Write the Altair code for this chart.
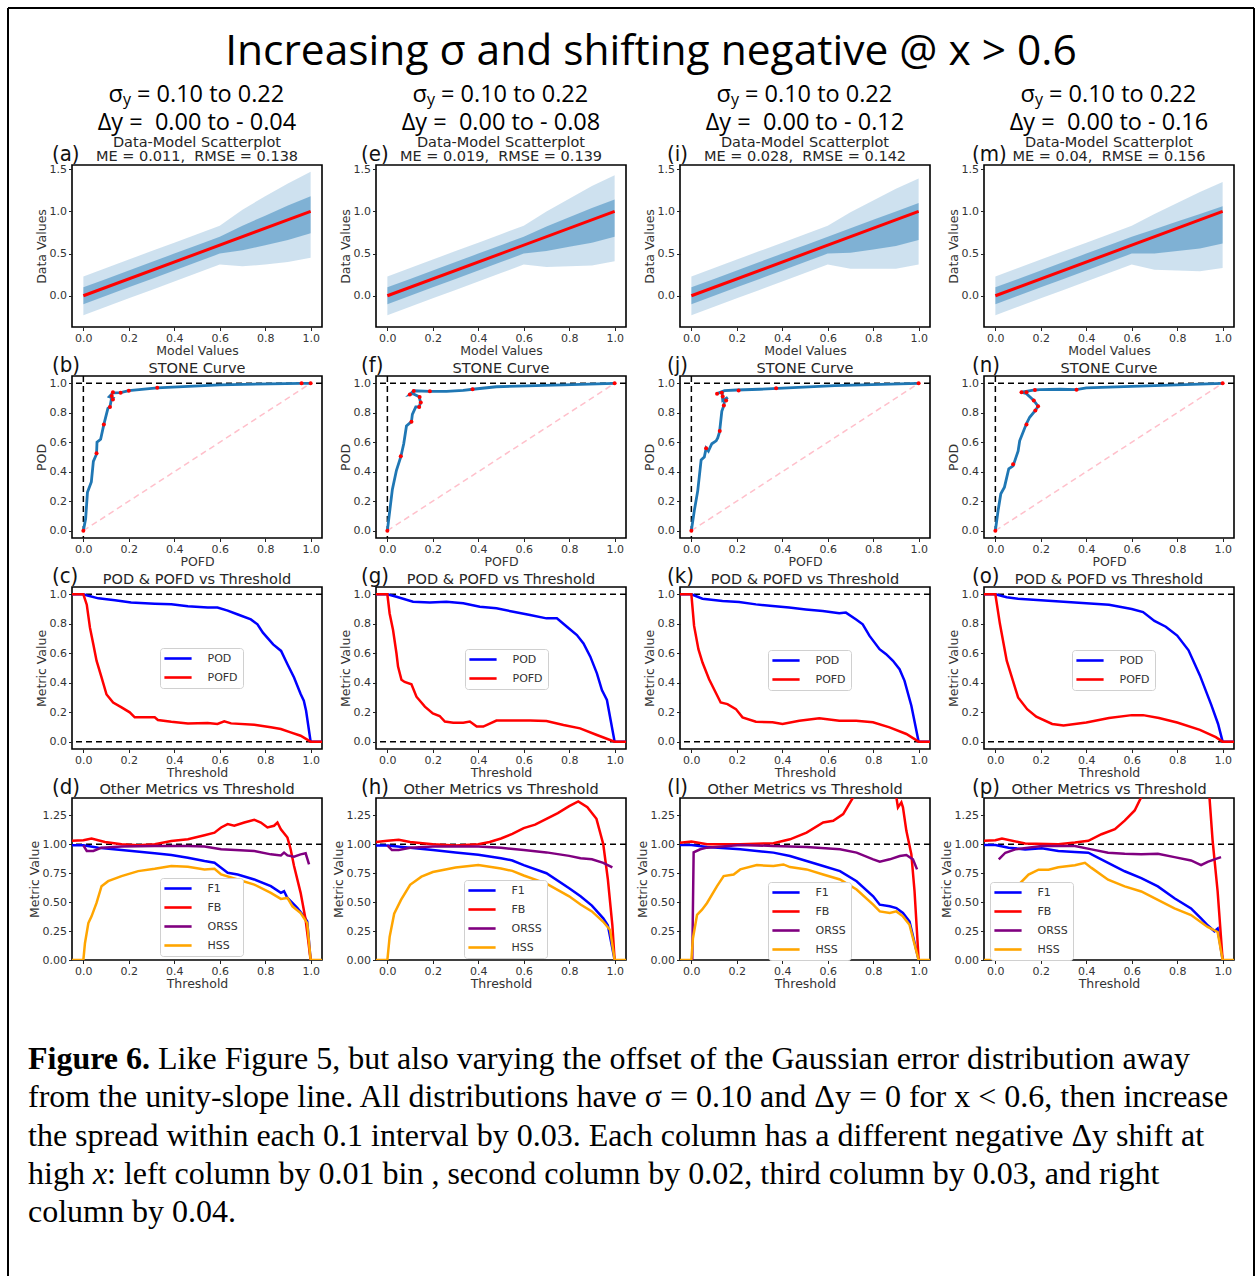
import altair as alt
import pandas as pd

# ---------------- fonts / colours ----------------
SANS = "DejaVu Sans"
HEAD = "Open Sans"
SERIF = "Liberation Serif"
NARROW = "Liberation Sans Narrow, DejaVu Sans Condensed, Open Sans"
TXT = "#262626"
TAB_BLUE = "#1f77b4"

W, H = 250, 162
TICKS = [0.0, 0.2, 0.4, 0.6, 0.8, 1.0]
XDOM = [-0.05, 1.05]

# ---------------- per-column header text ----------------
DY_TEXT = ["0.00 to - 0.04", "0.00 to - 0.08", "0.00 to - 0.12", "0.00 to - 0.16"]
ME_TEXT = ["0.011", "0.019", "0.028", "0.04"]
RMSE_TEXT = ["0.138", "0.139", "0.142", "0.156"]
LETTERS = [["a", "b", "c", "d"], ["e", "f", "g", "h"], ["i", "j", "k", "l"], ["m", "n", "o", "p"]]
LETTER_DX = [-20, -15, -13, -12]

# ---------------- row 1: data-model scatter envelopes ----------------
SCAT_X = [0.0, 0.1, 0.2, 0.3, 0.4, 0.5, 0.6, 0.7, 0.8, 0.9, 1.0]
INNER_LO = [
    [-0.10, 0.00, 0.10, 0.20, 0.30, 0.40, 0.50, 0.54, 0.60, 0.66, 0.74],
    [-0.10, 0.00, 0.10, 0.20, 0.30, 0.40, 0.50, 0.53, 0.58, 0.63, 0.70],
    [-0.10, 0.00, 0.10, 0.20, 0.30, 0.40, 0.50, 0.51, 0.55, 0.59, 0.66],
    [-0.10, 0.00, 0.10, 0.20, 0.30, 0.40, 0.50, 0.50, 0.53, 0.56, 0.62],
]
INNER_HI = [
    [0.10, 0.20, 0.30, 0.40, 0.50, 0.60, 0.70, 0.83, 0.95, 1.07, 1.18],
    [0.10, 0.20, 0.30, 0.40, 0.50, 0.60, 0.70, 0.82, 0.93, 1.04, 1.14],
    [0.10, 0.20, 0.30, 0.40, 0.50, 0.60, 0.70, 0.80, 0.90, 1.00, 1.10],
    [0.10, 0.20, 0.30, 0.40, 0.50, 0.60, 0.70, 0.79, 0.88, 0.97, 1.06],
]
OUTER_LO = [
    [-0.23, -0.13, -0.03, 0.07, 0.17, 0.27, 0.37, 0.35, 0.37, 0.40, 0.45],
    [-0.23, -0.13, -0.03, 0.07, 0.17, 0.27, 0.37, 0.34, 0.35, 0.36, 0.41],
    [-0.23, -0.13, -0.03, 0.07, 0.17, 0.27, 0.37, 0.32, 0.32, 0.32, 0.37],
    [-0.23, -0.13, -0.03, 0.07, 0.17, 0.27, 0.37, 0.31, 0.30, 0.29, 0.33],
]
OUTER_HI = [
    [0.23, 0.33, 0.43, 0.53, 0.63, 0.73, 0.83, 1.02, 1.18, 1.33, 1.47],
    [0.23, 0.33, 0.43, 0.53, 0.63, 0.73, 0.83, 1.00, 1.15, 1.30, 1.43],
    [0.23, 0.33, 0.43, 0.53, 0.63, 0.73, 0.83, 0.99, 1.13, 1.27, 1.39],
    [0.23, 0.33, 0.43, 0.53, 0.63, 0.73, 0.83, 0.97, 1.10, 1.23, 1.35],
]

# ---------------- row 2: STONE curves (POFD, POD) ----------------
STONE_X = [
    [0, 0.01, 0.018, 0.035, 0.044, 0.058, 0.06, 0.076, 0.09, 0.108, 0.117, 0.123, 0.13, 0.114, 0.13, 0.164, 0.2, 0.325, 0.6, 0.96, 1.0],
    [0, 0.007, 0.022, 0.04, 0.059, 0.072, 0.084, 0.106, 0.11, 0.125, 0.14, 0.146, 0.14, 0.113, 0.099, 0.116, 0.187, 0.26, 0.334, 0.375, 0.48, 0.775, 1.0],
    [0, 0.013, 0.028, 0.043, 0.057, 0.065, 0.075, 0.09, 0.109, 0.116, 0.124, 0.134, 0.143, 0.146, 0.16, 0.138, 0.135, 0.113, 0.146, 0.2, 0.3, 0.38, 0.63, 1.0],
    [0, 0.012, 0.024, 0.04, 0.059, 0.078, 0.1, 0.107, 0.137, 0.151, 0.176, 0.188, 0.169, 0.137, 0.115, 0.174, 0.196, 0.284, 0.357, 0.4, 1.0],
]
STONE_Y = [
    [0, 0.08, 0.26, 0.33, 0.47, 0.52, 0.60, 0.62, 0.72, 0.83, 0.84, 0.89, 0.90, 0.91, 0.935, 0.937, 0.95, 0.97, 0.99, 1.0, 1.0],
    [0, 0.09, 0.28, 0.41, 0.50, 0.59, 0.71, 0.74, 0.79, 0.84, 0.84, 0.87, 0.91, 0.93, 0.925, 0.95, 0.946, 0.946, 0.952, 0.96, 0.977, 0.99, 1.0],
    [0, 0.136, 0.27, 0.48, 0.50, 0.56, 0.54, 0.59, 0.61, 0.63, 0.67, 0.81, 0.85, 0.886, 0.905, 0.884, 0.943, 0.93, 0.95, 0.955, 0.96, 0.966, 0.984, 1.0],
    [0, 0.136, 0.25, 0.295, 0.42, 0.44, 0.54, 0.61, 0.727, 0.77, 0.816, 0.845, 0.884, 0.93, 0.94, 0.955, 0.957, 0.96, 0.957, 0.97, 1.0],
]
STONE_MX = [
    [0, 0.058, 0.09, 0.117, 0.13, 0.125, 0.13, 0.164, 0.2, 0.325, 0.96, 1.0],
    [0, 0.059, 0.106, 0.14, 0.147, 0.142, 0.099, 0.116, 0.187, 0.375, 1.0],
    [0, 0.065, 0.125, 0.143, 0.153, 0.138, 0.134, 0.113, 0.208, 0.373, 1.0],
    [0, 0.078, 0.137, 0.176, 0.188, 0.169, 0.137, 0.115, 0.174, 0.357, 1.0],
]
STONE_MY = [
    [0, 0.525, 0.72, 0.84, 0.89, 0.915, 0.94, 0.937, 0.95, 0.97, 1.0, 1.0],
    [0, 0.505, 0.74, 0.84, 0.87, 0.907, 0.925, 0.948, 0.946, 0.96, 1.0],
    [0, 0.56, 0.676, 0.85, 0.884, 0.91, 0.936, 0.93, 0.952, 0.966, 1.0],
    [0, 0.45, 0.72, 0.816, 0.845, 0.884, 0.94, 0.94, 0.955, 0.957, 1.0],
]

# ---------------- row 3: POD & POFD vs threshold ----------------
POD_X = [
    [-0.05, 0, 0.022, 0.066, 0.139, 0.21, 0.314, 0.387, 0.46, 0.547, 0.59, 0.635, 0.68, 0.737, 0.766, 0.79, 0.835, 0.87, 0.898, 0.927, 0.956, 0.97, 0.98, 1.0, 1.05],
    [-0.05, 0, 0.04, 0.113, 0.187, 0.26, 0.334, 0.407, 0.48, 0.554, 0.628, 0.7, 0.746, 0.79, 0.834, 0.863, 0.893, 0.922, 0.944, 0.966, 1.0, 1.05],
    [-0.05, 0, 0.049, 0.137, 0.21, 0.284, 0.357, 0.43, 0.504, 0.578, 0.651, 0.68, 0.725, 0.754, 0.784, 0.828, 0.857, 0.887, 0.916, 0.938, 0.968, 1.0, 1.05],
    [-0.05, 0, 0.05, 0.1, 0.2, 0.3, 0.4, 0.5, 0.6, 0.65, 0.7, 0.75, 0.8, 0.85, 0.9, 0.95, 0.98, 1.0, 1.05],
]
POD_Y = [
    [1, 1, 0.99, 0.973, 0.96, 0.944, 0.937, 0.933, 0.92, 0.91, 0.91, 0.89, 0.863, 0.83, 0.797, 0.74, 0.66, 0.616, 0.526, 0.436, 0.323, 0.278, 0.21, 0, 0],
    [1, 1, 0.984, 0.95, 0.944, 0.95, 0.939, 0.916, 0.905, 0.882, 0.86, 0.837, 0.837, 0.78, 0.724, 0.667, 0.577, 0.464, 0.35, 0.283, 0, 0],
    [1, 1, 0.97, 0.955, 0.948, 0.932, 0.921, 0.91, 0.898, 0.887, 0.871, 0.876, 0.83, 0.797, 0.718, 0.628, 0.594, 0.549, 0.492, 0.413, 0.244, 0, 0],
    [1, 1, 0.98, 0.97, 0.96, 0.95, 0.94, 0.93, 0.9, 0.88, 0.82, 0.78, 0.72, 0.62, 0.45, 0.25, 0.12, 0, 0],
]
POFD_X = [
    [-0.05, 0, 0.015, 0.029, 0.044, 0.058, 0.08, 0.102, 0.131, 0.168, 0.204, 0.226, 0.27, 0.314, 0.328, 0.387, 0.46, 0.547, 0.59, 0.62, 0.65, 0.752, 0.825, 0.869, 0.912, 0.956, 1.0, 1.05],
    [-0.05, 0, 0.01, 0.025, 0.04, 0.047, 0.062, 0.076, 0.106, 0.128, 0.165, 0.2, 0.23, 0.253, 0.29, 0.334, 0.363, 0.393, 0.422, 0.48, 0.57, 0.628, 0.7, 0.775, 0.848, 0.922, 1.0, 1.05],
    [-0.05, 0, 0.012, 0.031, 0.049, 0.078, 0.107, 0.129, 0.159, 0.196, 0.225, 0.284, 0.357, 0.401, 0.475, 0.563, 0.651, 0.725, 0.799, 0.872, 0.946, 1.0, 1.05],
    [-0.05, 0, 0.02, 0.05, 0.1, 0.14, 0.18, 0.25, 0.3, 0.4, 0.5, 0.6, 0.65, 0.72, 0.8, 0.9, 0.97, 1.0, 1.05],
]
POFD_Y = [
    [1, 1, 0.93, 0.774, 0.66, 0.55, 0.436, 0.32, 0.266, 0.233, 0.199, 0.165, 0.165, 0.165, 0.147, 0.135, 0.124, 0.126, 0.12, 0.138, 0.124, 0.115, 0.097, 0.086, 0.063, 0.04, 0, 0],
    [1, 1, 0.87, 0.758, 0.6, 0.51, 0.42, 0.405, 0.39, 0.305, 0.238, 0.192, 0.174, 0.136, 0.129, 0.129, 0.136, 0.102, 0.102, 0.143, 0.143, 0.143, 0.14, 0.113, 0.09, 0.045, 0, 0],
    [1, 1, 0.786, 0.628, 0.537, 0.424, 0.334, 0.266, 0.255, 0.221, 0.165, 0.135, 0.131, 0.12, 0.142, 0.158, 0.142, 0.142, 0.131, 0.097, 0.052, 0, 0],
    [1, 1, 0.8, 0.55, 0.3, 0.22, 0.17, 0.12, 0.11, 0.13, 0.16, 0.18, 0.18, 0.16, 0.13, 0.08, 0.03, 0, 0],
]
POD_LEGEND_XY = [(88, 61), (89, 62), (88, 63), (88, 63)]

# ---------------- row 4: other metrics vs threshold ----------------
F1_X = [
    [-0.05, 0, 0.066, 0.168, 0.314, 0.387, 0.46, 0.533, 0.577, 0.606, 0.635, 0.679, 0.752, 0.825, 0.869, 0.883, 0.898, 0.92, 0.942, 0.971, 0.985, 1.0],
    [-0.05, 0, 0.1, 0.2, 0.3, 0.4, 0.5, 0.55, 0.6, 0.7, 0.8, 0.85, 0.9, 0.95, 0.97, 1.0],
    [-0.05, 0, 0.069, 0.215, 0.361, 0.434, 0.507, 0.58, 0.654, 0.727, 0.8, 0.829, 0.873, 0.902, 0.931, 0.96, 1.0],
    [-0.05, 0, 0.058, 0.131, 0.204, 0.277, 0.35, 0.409, 0.453, 0.496, 0.569, 0.642, 0.715, 0.788, 0.861, 0.905, 0.934, 0.964, 0.978, 1.0],
]
F1_Y = [
    [0.991, 0.991, 0.971, 0.951, 0.922, 0.907, 0.884, 0.855, 0.84, 0.797, 0.754, 0.739, 0.696, 0.638, 0.58, 0.594, 0.536, 0.493, 0.449, 0.377, 0.333, 0],
    [0.99, 0.99, 0.97, 0.95, 0.93, 0.91, 0.88, 0.86, 0.82, 0.75, 0.62, 0.55, 0.47, 0.36, 0.3, 0],
    [0.994, 0.994, 0.977, 0.957, 0.928, 0.899, 0.855, 0.812, 0.768, 0.681, 0.551, 0.478, 0.464, 0.449, 0.406, 0.333, 0],
    [0.994, 0.994, 0.971, 0.956, 0.965, 0.942, 0.933, 0.927, 0.883, 0.84, 0.767, 0.708, 0.636, 0.534, 0.446, 0.359, 0.3, 0.248, 0.271, 0],
]
FB_X = [
    [-0.05, 0, 0.036, 0.095, 0.168, 0.241, 0.314, 0.387, 0.46, 0.533, 0.577, 0.606, 0.635, 0.664, 0.708, 0.752, 0.781, 0.81, 0.839, 0.854, 0.869, 0.898, 0.912, 0.927, 0.956, 0.978, 1.0],
    [-0.05, 0, 0.05, 0.1, 0.2, 0.3, 0.4, 0.45, 0.5, 0.55, 0.6, 0.65, 0.7, 0.75, 0.8, 0.84, 0.88, 0.92, 0.95, 0.97, 0.99, 1.0],
    [-0.05, 0, 0.069, 0.215, 0.361, 0.434, 0.507, 0.58, 0.624, 0.668, 0.712, 0.74, 0.89, 0.902, 0.909, 0.924, 0.931, 0.946, 0.968, 0.982, 1.0],
    [-0.05, 0, 0.029, 0.131, 0.277, 0.35, 0.409, 0.467, 0.526, 0.569, 0.613, 0.642, 0.66, 0.93, 0.942, 0.956, 0.978, 1.0],
]
FB_Y = [
    [1.03, 1.035, 1.05, 1.02, 1.0, 0.991, 1.0, 1.029, 1.043, 1.078, 1.1, 1.145, 1.174, 1.16, 1.188, 1.212, 1.188, 1.145, 1.16, 1.188, 1.13, 1.058, 0.957, 0.812, 0.58, 0.348, 0],
    [1.02, 1.03, 1.04, 1.02, 1.0, 0.99, 1.0, 1.02, 1.05, 1.09, 1.14, 1.17, 1.22, 1.27, 1.33, 1.37, 1.32, 1.22, 1.0, 0.7, 0.3, 0],
    [1.014, 1.023, 1.0, 1.0, 1.009, 1.043, 1.101, 1.188, 1.203, 1.261, 1.406, 1.6, 1.6, 1.406, 1.319, 1.362, 1.319, 1.116, 0.913, 0.594, 0],
    [1.03, 1.035, 1.05, 1.006, 1.0, 1.015, 1.03, 1.087, 1.131, 1.204, 1.292, 1.408, 1.6, 1.6, 1.408, 1.03, 0.592, 0],
]
ORSS_X = [
    [0, 0.015, 0.044, 0.08, 0.168, 0.314, 0.46, 0.533, 0.606, 0.752, 0.825, 0.869, 0.883, 0.898, 0.927, 0.956, 0.978, 0.993],
    [0, 0.02, 0.05, 0.1, 0.2, 0.3, 0.4, 0.5, 0.6, 0.7, 0.8, 0.85, 0.9, 0.95, 0.99],
    [0.004, 0.01, 0.039, 0.069, 0.215, 0.361, 0.507, 0.654, 0.727, 0.8, 0.829, 0.873, 0.917, 0.946, 0.975, 0.993],
    [0.015, 0.044, 0.088, 0.204, 0.35, 0.423, 0.496, 0.569, 0.642, 0.715, 0.788, 0.861, 0.905, 0.934, 0.964, 0.993],
]
ORSS_Y = [
    [0.991, 0.942, 0.942, 0.971, 0.98, 0.986, 0.986, 0.98, 0.957, 0.942, 0.913, 0.904, 0.928, 0.904, 0.893, 0.913, 0.922, 0.826],
    [0.99, 0.95, 0.95, 0.97, 0.98, 0.98, 0.98, 0.97, 0.95, 0.93, 0.9, 0.88, 0.87, 0.84, 0.8],
    [0, 0.93, 0.957, 0.971, 0.994, 0.986, 0.977, 0.957, 0.928, 0.87, 0.849, 0.87, 0.899, 0.907, 0.87, 0.783],
    [0.869, 0.927, 0.956, 0.985, 0.985, 0.956, 0.927, 0.918, 0.913, 0.918, 0.889, 0.86, 0.819, 0.848, 0.869, 0.889],
]
HSS_X = [
    [-0.05, 0, 0.007, 0.022, 0.036, 0.058, 0.08, 0.109, 0.168, 0.241, 0.314, 0.387, 0.46, 0.533, 0.577, 0.606, 0.679, 0.752, 0.825, 0.869, 0.898, 0.92, 0.956, 0.985, 1.0, 1.05],
    [-0.05, 0, 0.01, 0.03, 0.06, 0.1, 0.15, 0.2, 0.3, 0.4, 0.5, 0.55, 0.6, 0.7, 0.8, 0.85, 0.9, 0.95, 0.98, 1.0, 1.05],
    [-0.05, 0, 0.007, 0.025, 0.047, 0.069, 0.113, 0.142, 0.186, 0.215, 0.288, 0.361, 0.405, 0.434, 0.507, 0.58, 0.654, 0.727, 0.8, 0.829, 0.873, 0.902, 0.931, 0.96, 1.0, 1.05],
    [-0.05, 0.007, 0.022, 0.044, 0.066, 0.102, 0.146, 0.19, 0.234, 0.277, 0.35, 0.394, 0.423, 0.496, 0.569, 0.642, 0.715, 0.788, 0.861, 0.934, 0.978, 1.0, 1.05],
]
HSS_Y = [
    [0, 0, 0.145, 0.319, 0.377, 0.493, 0.638, 0.681, 0.725, 0.768, 0.788, 0.812, 0.806, 0.783, 0.788, 0.739, 0.696, 0.652, 0.58, 0.528, 0.536, 0.464, 0.406, 0.319, 0, 0],
    [0, 0, 0.2, 0.4, 0.52, 0.65, 0.72, 0.76, 0.8, 0.82, 0.79, 0.77, 0.73, 0.66, 0.55, 0.48, 0.42, 0.33, 0.26, 0, 0],
    [0, 0, 0.188, 0.391, 0.435, 0.493, 0.638, 0.725, 0.739, 0.783, 0.82, 0.812, 0.826, 0.803, 0.783, 0.739, 0.696, 0.609, 0.478, 0.42, 0.406, 0.42, 0.377, 0.304, 0, 0],
    [0, 0, 0.184, 0.388, 0.504, 0.65, 0.738, 0.781, 0.781, 0.802, 0.819, 0.84, 0.796, 0.694, 0.636, 0.592, 0.519, 0.446, 0.388, 0.286, 0.242, 0, 0],
]
OTHER_LEGEND_XY = [(88, 80), (88, 82), (88, 84), (6, 84)]

# ---------------- caption ----------------
CAPTION = [
    "from the unity-slope line. All distributions have \u03c3 = 0.10 and \u0394y = 0 for x < 0.6, then increase",
    "the spread within each 0.1 interval by 0.03. Each column has a different negative \u0394y shift at",
]
CAPTION_FIRST = ("Figure 6.", "Like Figure 5, but also varying the offset of the Gaussian error distribution away")
CAPTION_HIGH = ("high", "x", ": left column by 0.01 bin , second column by 0.02, third column by 0.03, and right")
CAPTION_LAST = "column by 0.04."

ONE = pd.DataFrame({"k": [0]})


def text(s, x, y, size, font=SANS, align="center", weight="normal", style="normal",
         color=TXT, baseline="alphabetic"):
    return alt.Chart(ONE).mark_text(
        align=align, baseline=baseline, font=font, fontSize=size,
        fontWeight=weight, fontStyle=style, color=color,
    ).encode(x=alt.value(x), y=alt.value(y), text=alt.value(s))


def seg(x1, y1, x2, y2):
    return alt.Chart(ONE).mark_rule(color="black", strokeWidth=2).encode(
        x=alt.value(x1), x2=alt.value(x2), y=alt.value(y1), y2=alt.value(y2))


def x_enc(field, title, fmt=".1f"):
    return alt.X(field, type="quantitative",
                 scale=alt.Scale(domain=XDOM, nice=False, zero=False),
                 axis=alt.Axis(title=title, values=TICKS, format=fmt))


def y_enc(field, title, dom, ticks, fmt):
    return alt.Y(field, type="quantitative",
                 scale=alt.Scale(domain=dom, nice=False, zero=False),
                 axis=alt.Axis(title=title, values=ticks, format=fmt))


def series_df(names, xs, ys):
    rows = []
    for name, sx, sy in zip(names, xs, ys):
        for i, (a, b) in enumerate(zip(sx, sy)):
            rows.append({"series": name, "i": i, "x": a, "y": b})
    return pd.DataFrame(rows)


def panel_label(col, row):
    return text("(" + LETTERS[col][row] + ")", LETTER_DX[col], -4, 22,
                font=NARROW, align="left", color="#111")


def scatter_panel(c):
    ydom, yt = [-0.37, 1.55], [0.0, 0.5, 1.0, 1.5]
    df = pd.DataFrame({"x": SCAT_X, "lo1": INNER_LO[c], "hi1": INNER_HI[c],
                       "lo2": OUTER_LO[c], "hi2": OUTER_HI[c]})
    outer = alt.Chart(df).mark_area(color=TAB_BLUE, opacity=0.22).encode(
        x=x_enc("x", "Model Values"), y=y_enc("lo2", "Data Values", ydom, yt, ".1f"),
        y2=alt.Y2("hi2"))
    inner = alt.Chart(df).mark_area(color=TAB_BLUE, opacity=0.45).encode(
        x=x_enc("x", "Model Values"), y=y_enc("lo1", "Data Values", ydom, yt, ".1f"),
        y2=alt.Y2("hi1"))
    unity = alt.Chart(pd.DataFrame({"x": [0.0, 1.0], "y": [0.0, 1.0]})).mark_line(
        color="#ff0000", strokeWidth=3).encode(
        x=x_enc("x", "Model Values"), y=y_enc("y", "Data Values", ydom, yt, ".1f"))
    cx = W / 2
    layers = [
        outer, inner, unity,
        text("\u03c3", cx - 74, -63, 23.5, font=HEAD, align="right", color="#000"),
        text("y", cx - 74, -60, 16, font=HEAD, align="left", color="#000"),
        text("= 0.10 to 0.22", cx - 60, -63, 23.5, font=HEAD, align="left", color="#000"),
        text("\u0394y = \u00a0" + DY_TEXT[c], cx, -35, 23.5, font=HEAD, color="#000"),
        text("Data-Model Scatterplot", cx, -18.5, 14.5),
        text("ME = " + ME_TEXT[c] + ",\u00a0 RMSE = " + RMSE_TEXT[c], cx, -4, 14.5),
        panel_label(c, 0),
    ]
    return layers


def stone_panel(c):
    dom, yt = [-0.05, 1.05], TICKS
    df = pd.DataFrame({"x": STONE_X[c], "y": STONE_Y[c], "i": list(range(len(STONE_X[c])))})
    mk = pd.DataFrame({"x": STONE_MX[c], "y": STONE_MY[c]})
    xe = lambda f: x_enc(f, "POFD")
    ye = lambda f: y_enc(f, "POD", dom, yt, ".1f")
    diag = alt.Chart(pd.DataFrame({"x": [0.0, 1.0], "y": [0.0, 1.0]})).mark_line(
        color="#ffc0cb", strokeWidth=1.5, strokeDash=[6, 4]).encode(x=xe("x"), y=ye("y"))
    hline = alt.Chart(ONE).mark_rule(color="black", strokeWidth=1.5, strokeDash=[6, 4]).encode(
        y=alt.Y(datum=1.0, type="quantitative", scale=alt.Scale(domain=dom, nice=False, zero=False),
                axis=alt.Axis(title="POD", values=yt, format=".1f")))
    vline = alt.Chart(ONE).mark_rule(color="black", strokeWidth=1.5, strokeDash=[6, 4]).encode(
        x=alt.X(datum=0.0, type="quantitative", scale=alt.Scale(domain=XDOM, nice=False, zero=False),
                axis=alt.Axis(title="POFD", values=TICKS, format=".1f")))
    curve = alt.Chart(df).mark_line(color=TAB_BLUE, strokeWidth=2.8).encode(
        x=xe("x"), y=ye("y"), order=alt.Order("i:Q"))
    pts = alt.Chart(mk).mark_point(filled=True, color="#ff0000", size=16, opacity=1).encode(
        x=xe("x"), y=ye("y"))
    return [diag, hline, vline, curve, pts,
            text("STONE Curve", W / 2, -3, 14.5), panel_label(c, 1)]


def line_panel(df, names, colors, lx, ly, ydom, yticks, fmt):
    color = alt.Color("series:N", scale=alt.Scale(domain=names, range=colors),
                      legend=alt.Legend(title=None, orient="none", legendX=lx, legendY=ly))
    return alt.Chart(df).mark_line(strokeWidth=2.5, clip=True).encode(
        x=x_enc("x", "Threshold"), y=y_enc("y", "Metric Value", ydom, yticks, fmt),
        color=color, order=alt.Order("i:Q"))


def dashed_h(val, ydom, yticks, fmt):
    return alt.Chart(ONE).mark_rule(color="black", strokeWidth=1.5, strokeDash=[6, 4]).encode(
        y=alt.Y(datum=val, type="quantitative", scale=alt.Scale(domain=ydom, nice=False, zero=False),
                axis=alt.Axis(title="Metric Value", values=yticks, format=fmt)))


def pod_panel(c):
    dom = [-0.05, 1.05]
    df = series_df(["POD", "POFD"], [POD_X[c], POFD_X[c]], [POD_Y[c], POFD_Y[c]])
    lx, ly = POD_LEGEND_XY[c]
    return [dashed_h(1.0, dom, TICKS, ".1f"), dashed_h(0.0, dom, TICKS, ".1f"),
            line_panel(df, ["POD", "POFD"], ["#0000ff", "#ff0000"], lx, ly, dom, TICKS, ".1f"),
            text("POD & POFD vs Threshold", W / 2, -3, 14.5), panel_label(c, 2)]


def other_panel(c):
    dom, yt = [0.0, 1.4], [0.0, 0.25, 0.5, 0.75, 1.0, 1.25]
    names = ["F1", "FB", "ORSS", "HSS"]
    df = series_df(names, [F1_X[c], FB_X[c], ORSS_X[c], HSS_X[c]],
                   [F1_Y[c], FB_Y[c], ORSS_Y[c], HSS_Y[c]])
    lx, ly = OTHER_LEGEND_XY[c]
    return [dashed_h(1.0, dom, yt, ".2f"),
            line_panel(df, names, ["#0000ff", "#ff0000", "#800080", "#ffa500"], lx, ly, dom, yt, ".2f"),
            text("Other Metrics vs Threshold", W / 2, -4, 14.5), panel_label(c, 3)]


def page_layers():
    # overall title, frame and caption, placed relative to the first panel
    layers = [
        seg(-64, -157, 1182, -157), seg(-64, -157, -64, 1111), seg(1182, -157, 1182, 1111),
        text("Increasing \u03c3 and shifting negative @ x > 0.6", 579, -100, 42.5,
             font=HEAD, color="#000"),
    ]
    cap = dict(font=SERIF, align="left", color="#000")
    base = [904, 942, 981, 1019, 1057]
    layers.append(text(CAPTION_FIRST[0], -44, base[0], 32, weight="bold", **cap))
    layers.append(text(CAPTION_FIRST[1], 86, base[0], 32, **cap))
    layers.append(text(CAPTION[0], -44, base[1], 32, **cap))
    layers.append(text(CAPTION[1], -44, base[2], 32, **cap))
    layers.append(text(CAPTION_HIGH[0], -44, base[3], 32, **cap))
    layers.append(text(CAPTION_HIGH[1], 21, base[3], 32, style="italic", **cap))
    layers.append(text(CAPTION_HIGH[2], 35, base[3], 32, **cap))
    layers.append(text(CAPTION_LAST, -44, base[4], 32, **cap))
    return layers


# 4 x 4 grid of panels, laid out row by row
builders = [scatter_panel, stone_panel, pod_panel, other_panel]
panels = []
for r, build in enumerate(builders):
    for c in range(4):
        layers = build(c)
        if r == 0 and c == 0:
            layers = layers + page_layers()
        panels.append(alt.layer(*layers).properties(width=W, height=H))

chart = (
    alt.concat(*panels, columns=4, spacing={"row": 49, "column": 54}, bounds="flush")
    .resolve_scale(color="independent").resolve_legend(color="independent")
    .properties(padding={"left": 6, "top": 6, "right": 0, "bottom": 0}, background="white")
    .configure_view(stroke="black", strokeWidth=1.6)
    .configure_axis(domain=False, grid=False, ticks=True, tickColor="#222", tickSize=3.5,
                    tickWidth=1, labelFont=SANS, labelFontSize=11, labelColor="#333",
                    titleFont=SANS, titleFontSize=12.5, titleColor="#333",
                    titleFontWeight="normal", labelPadding=2, titlePadding=1)
    .configure_legend(fillColor="white", strokeColor="#d0d0d0", cornerRadius=3, padding=5,
                      labelFont=SANS, labelFontSize=11, labelColor="#333",
                      symbolType="M-3.4,0H3.4", symbolSize=64, symbolStrokeWidth=2.6,
                      symbolOffset=7.5, rowPadding=7, labelOffset=24)
)

chart.save("out.html", embed_options={"renderer": "svg", "actions": False})
